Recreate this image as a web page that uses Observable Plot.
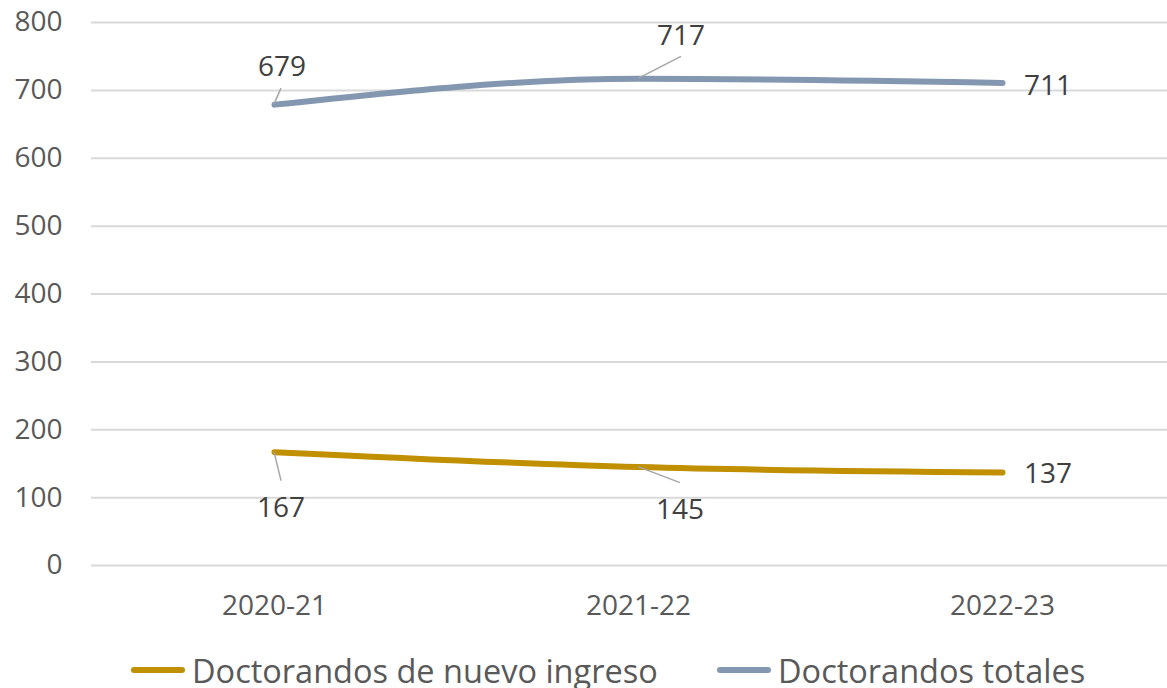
<!DOCTYPE html>
<html>
<head>
<meta charset="utf-8">
<script src="https://cdn.jsdelivr.net/npm/d3@7"></script>
<script src="https://cdn.jsdelivr.net/npm/@observablehq/plot@0.6"></script>
<style>
  html, body { margin: 0; padding: 0; background: #fff; overflow: hidden; width: 1167px; height: 688px; }
  #chart { position: absolute; left: 0; top: 0; width: 1184px; }
  #chart svg { max-width: none !important; }
  .legend { position: absolute; top: 645px; left: 0; width: 1167px; height: 50px; font-family: "Open Sans", sans-serif; font-size: 32.5px; color: #595959; }
  .item { position: absolute; top: 0; display: flex; align-items: center; height: 50px; white-space: nowrap; }
  .sw { width: 54px; height: 6px; border-radius: 3px; margin-right: 7px; }
</style>
</head>
<body>
<div id="chart"></div>
<div class="legend" id="legend"></div>
<script>
const years = ["2020-21", "2021-22", "2022-23"];
const nuevoIngreso = [167, 145, 137];
const totales = [679, 717, 711];
const seriesNames = ["Doctorandos de nuevo ingreso", "Doctorandos totales"];
const yTicks = [0, 100, 200, 300, 400, 500, 600, 700, 800];

// layout/style (not data)
const colors = ["#C09000", "#8497B0"];
// label offsets in pixels from each point: [dx, dy, leaderDx, leaderDy] (null leader = none)
const labelPlacement = [
  [[7, 54, 7, 29], [42, 41, 42, 16], [46, 0, null, null]],
  [[8, -39, 7, -16], [43, -44, 43, -22], [46, 2, null, null]]
];

const seriesValues = [nuevoIngreso, totales];
const rows = [];
seriesValues.forEach((vals, s) => vals.forEach((v, i) => rows.push({series: seriesNames[s], s, i, year: years[i], value: v})));

const FONT = "'Open Sans', sans-serif";

const labelsMark = (index, scales) => {
  const g = d3.create("svg:g");
  rows.forEach(r => {
    const px = scales.x(r.year);
    const py = scales.y(r.value);
    const [dx, dy, lx, ly] = labelPlacement[r.s][r.i];
    if (lx !== null) {
      g.append("line")
        .attr("x1", px).attr("y1", py)
        .attr("x2", px + lx).attr("y2", py + ly)
        .attr("stroke", "#A6A6A6").attr("stroke-width", 1.5);
    }
    g.append("text")
      .attr("x", px + dx).attr("y", py + dy)
      .attr("text-anchor", "middle").attr("dominant-baseline", "central")
      .attr("fill", "#404040").attr("font-size", 28).attr("font-family", FONT)
      .text(String(r.value));
  });
  return g.node();
};

const chart = Plot.plot({
  width: 1184,
  height: 640,
  marginLeft: 91,
  marginRight: 0,
  marginTop: 22,
  marginBottom: 75,
  style: { fontFamily: FONT, fontSize: "28px", color: "#595959", background: "transparent", overflow: "visible", maxWidth: "none" },
  x: { type: "point", domain: years, padding: 0.5, label: null, tickSize: 0, tickPadding: 30 },
  y: { domain: [0, 800], ticks: yTicks, label: null, tickSize: 0, tickPadding: 29 },
  marks: [
    Plot.gridY(yTicks, { stroke: "#D9D9D9", strokeOpacity: 1, strokeWidth: 2 }),
    Plot.line(rows, { x: "year", y: "value", z: "series", stroke: "series", strokeWidth: 6, strokeLinecap: "round", strokeLinejoin: "round", curve: "monotone-x" }),
    labelsMark
  ],
  color: { domain: seriesNames, range: colors }
});
chart.style.maxWidth = "none";
chart.querySelectorAll("[aria-label='x-axis tick label'] text, [aria-label='y-axis tick label'] text").forEach(t => t.setAttribute("fill", "#595959"));
document.getElementById("chart").appendChild(chart);

const legend = document.getElementById("legend");
const legendX = [131, 717];
seriesNames.forEach((name, s) => {
  const item = document.createElement("div");
  item.className = "item";
  item.style.left = legendX[s] + "px";
  const sw = document.createElement("span");
  sw.className = "sw";
  sw.style.background = colors[s];
  const tx = document.createElement("span");
  tx.textContent = name;
  item.appendChild(sw);
  item.appendChild(tx);
  legend.appendChild(item);
});
</script>
</body>
</html>
